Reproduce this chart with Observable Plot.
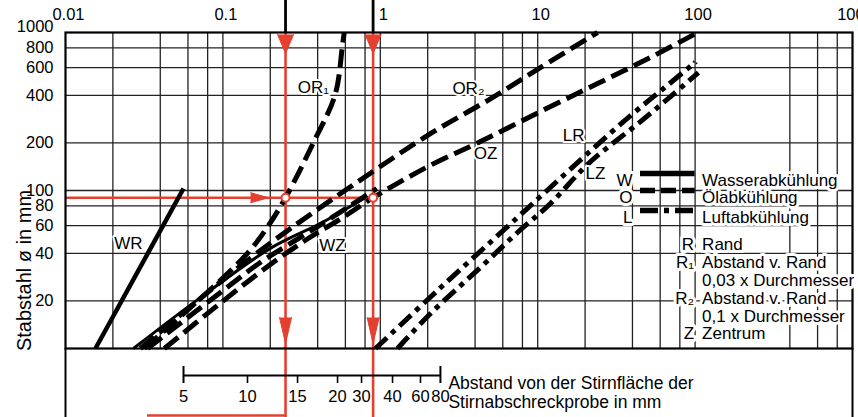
<!DOCTYPE html>
<html>
<head>
<meta charset="utf-8">
<script src="https://cdn.jsdelivr.net/npm/d3@7"></script>
<script src="https://cdn.jsdelivr.net/npm/@observablehq/plot@0.6"></script>
<style>
  body { margin: 0; background: #fff; }
  svg { display: block; }
</style>
</head>
<body>
<div id="chart"></div>
<script>
// ---------- data ----------
const xTicks = [0.01, 0.1, 1, 10, 100, 1000];
const xTickLabels = ["0.01", "0.1", "1", "10", "100", "1000"];
const xGrid = [0.02, 0.04, 0.06, 0.08, 0.1, 0.2, 0.4, 0.6, 0.8, 1, 2, 4, 6, 8, 10, 20, 40, 60, 80, 100, 400, 600, 800];
const yTicks = [20, 40, 60, 80, 100, 200, 400, 600, 800, 1000];
const yTickLabels = ["20", "40", "60", "80", "100", "200", "400", "600", "800", "1000"];
const yGrid = [20, 40, 60, 80, 100, 200, 400, 600, 800];

// curves: [x (equivalent scale), Stabstahl diameter mm]
const curveWR  = [[0.0155, 10], [0.0562, 103]];
const curveWZ  = [[0.027, 10], [0.072, 21], [0.2, 43], [0.427, 62.7], [0.8, 90]];
const curveOR1 = [[0.0317, 10], [0.107, 29.8], [0.149, 41.9], [0.191, 58.3], [0.25, 90], [0.376, 201], [0.517, 405], [0.573, 803], [0.59, 1000]];
const curveOR2 = [[0.0299, 10], [0.0718, 20.7], [0.149, 37.2], [0.269, 57.5], [0.696, 111], [2.08, 229], [4.8, 371], [10.4, 600], [24, 1000]];
const curveOX  = [[0.0332, 10], [0.0832, 20.2], [0.1727, 35], [0.31, 50.5], [0.517, 69.5], [0.95, 103]];
const curveOZ  = [[0.0425, 10], [0.0922, 18.7], [0.2, 34], [0.348, 49.7], [0.54, 64.6], [0.9, 90], [2.07, 144], [4.33, 204], [10.4, 316], [24, 475], [52, 695], [104, 1000]];
const curveLR  = [[0.932, 10], [2.31, 23.3], [6.43, 59.1], [10.4, 91.6], [20.7, 171], [38.9, 298], [63, 442], [100, 646]];
const curveLZ  = [[1.286, 10], [2.085, 16.65], [4.33, 32.6], [7.44, 54.2], [12.06, 82.7], [21.0, 148], [45, 273], [69.8, 393], [105, 558]];

const curveNames   = ["WR", "WZ", "OR1", "OR2", "OX", "OZ", "LR", "LZ"];
const curveCooling = ["W", "W", "O", "O", "O", "O", "L", "L"];
const curvePoints  = [curveWR, curveWZ, curveOR1, curveOR2, curveOX, curveOZ, curveLR, curveLZ];

// curve labels
const labelText = ["WR", "WZ", "OR₁", "OR₂", "OZ", "LR", "LZ"];
const labelX    = [0.0251, 0.497, 0.376, 3.63, 4.66, 16.9, 23.3];
const labelY    = [46.2, 44.9, 449, 443, 171, 223, 128];

// reading example (red)
const readY = 90;
const readX = [0.25, 0.9];
const readArrowX = 0.15;
const readBottomStart = 0.0332;

// Jominy distance scale (mm) and equivalent x
const jominyMM = [5, 10, 15, 20, 30, 40, 60, 80];
const jominyX  = [0.0562, 0.1433, 0.298, 0.535, 0.76, 1.196, 1.80, 2.41];

// legend
const coolKeys  = ["W", "O", "L"];
const coolNames = ["Wasserabkühlung", "Ölabkühlung", "Luftabkühlung"];
const posKeys   = ["R", "R₁", "", "R₂", "", "Z"];
const posNames  = ["Rand", "Abstand v. Rand", "0,03 x Durchmesser", "Abstand v. Rand", "0,1 x Durchmesser", "Zentrum"];

// ---------- build ----------
const xMin = 0.01, xMax = 1000, yMin = 10, yMax = 1000, yMid = 100;
const red = "#e5402f";
const font = "'Liberation Sans', Arial, Helvetica, sans-serif";

const rows = [];
curvePoints.forEach((pts, i) => pts.forEach(([x, y]) => rows.push({curve: curveNames[i], cooling: curveCooling[i], x, y})));

const dashO = "18,7";
const dashL = "16,6,5,6";
const curveLine = (names, opts) => Plot.line(rows.filter(d => names.includes(d.curve)), {
  x: "x", y: "y", z: "curve", curve: "catmull-rom", stroke: "black",
  strokeLinejoin: "round", strokeLinecap: "butt", ...opts
});

const labels = labelText.map((t, i) => ({t, x: labelX[i], y: labelY[i]}));
const jominy = jominyMM.map((mm, i) => ({mm, x: jominyX[i]}));
const xLabels = xTicks.map((v, i) => ({v, t: xTickLabels[i]}));
const yLabels = yTicks.map((v, i) => ({v, t: yTickLabels[i]}));
const coolRows = coolKeys.map((k, i) => ({key: k, name: coolNames[i], dash: [null, "15,6", "18,6,5,6"][i]}));
const posRows = posKeys.map((k, i) => ({key: k, name: posNames[i]}));

const coolRowPx = [173, 190, 210];          // legend row centres (px)
const posRowPx = [237, 255, 273, 291, 309, 326];
const midPx = 190, topPx = 32;
const legendFont = 17;

const halo = {fill: "black", stroke: "white", strokeWidth: 4};
const haloL = {fill: "black", stroke: "white", strokeWidth: 6};

const marks = [
  // grid
  Plot.ruleX(xGrid, {stroke: "#222", strokeWidth: 1.3}),
  Plot.ruleY(yGrid, {stroke: "#222", strokeWidth: 1.3}),
  // lower strip borders
  Plot.ruleX([xMin, xMax], {y1: yMin, y2: yMin, insetBottom: -72, stroke: "black", strokeWidth: 2}),
  // red reading lines
  Plot.ruleX(readX, {stroke: red, strokeWidth: 2.6, insetBottom: -69}),
  Plot.ruleY([readY], {x1: xMin, x2: readX[1], stroke: red, strokeWidth: 2.6}),
  Plot.ruleY([yMin], {x1: readBottomStart, x2: readX[0], dy: 67, stroke: red, strokeWidth: 2.6}),
  Plot.ruleX(readX, {y1: yMax, y2: yMax, insetTop: -32, stroke: "black", strokeWidth: 2.8}),
  // curves
  curveLine(["WR"], {strokeWidth: 4.5}),
  curveLine(["WZ"], {strokeWidth: 3}),
  curveLine(["OR1", "OR2", "OX", "OZ"], {strokeWidth: 5, strokeDasharray: dashO}),
  curveLine(["LR", "LZ"], {strokeWidth: 5, strokeDasharray: dashL}),
  // arrows and reading points
  Plot.vector(readX, {x: d => d, frameAnchor: "top", dy: 2, length: 19, r: 8, rotate: 180, shape: "spike", anchor: "start", fill: red, stroke: red, strokeWidth: 1}),
  Plot.vector(readX, {x: d => d, frameAnchor: "bottom", dy: -31, length: 26, r: 6, rotate: 180, shape: "spike", anchor: "start", fill: red, stroke: red, strokeWidth: 1}),
  Plot.vector([readArrowX], {x: d => d, y: readY, length: 18, r: 5, rotate: 90, shape: "spike", anchor: "start", fill: red, stroke: red, strokeWidth: 1}),
  Plot.dot(readX, {x: d => d, y: readY, r: 4, fill: "white", stroke: red, strokeWidth: 2}),
  // curve labels
  Plot.text(labels, {x: "x", y: "y", text: "t", fontSize: 17, ...halo}),
  // frame
  Plot.frame({stroke: "black", strokeWidth: 2.2}),
  // axis labels
  Plot.text(xLabels, {x: "v", y: yMax, text: "t", dy: -18, dx: 3, fontSize: 16.5, fill: "black"}),
  Plot.text(yLabels.filter(d => d.v < yMax), {x: xMin, y: "v", text: "t", dx: -12, textAnchor: "end", fontSize: 16.5, fill: "black"}),
  Plot.text(yLabels.filter(d => d.v === yMax), {x: xMin, y: "v", text: "t", dx: -12, dy: -6, textAnchor: "end", fontSize: 16.5, fill: "black"}),
  Plot.text(["Stabstahl ø in mm"], {frameAnchor: "left", textAnchor: "middle", rotate: -90, dx: -41, dy: 80, fontSize: 20, fill: "black"}),
  // Jominy scale
  Plot.ruleY([yMin], {x1: jominyX[0], x2: jominyX[jominyX.length - 1], dy: 27, stroke: "black", strokeWidth: 2}),
  Plot.ruleX(jominyX.slice(1, -1), {y1: yMin, y2: yMin, insetBottom: -8, dy: 27, stroke: "black", strokeWidth: 1.6}),
  Plot.ruleX([jominyX[0], jominyX[jominyX.length - 1]], {y1: yMin, y2: yMin, insetTop: -9, insetBottom: -8, dy: 27, stroke: "black", strokeWidth: 2}),
  Plot.text(jominy, {x: "x", y: yMin, text: "mm", dy: 48, fontSize: 16.5, fill: "black"}),
  Plot.text(["Abstand von der Stirnfläche der\nStirnabschreckprobe in mm"], {
    x: jominyX[jominyX.length - 1], y: yMin, dx: 8, dy: 43.6, textAnchor: "start", lineHeight: 1.14, fontSize: 17.5, fill: "black"})
];

// legend: cooling
coolRows.forEach((r, i) => {
  const py = coolRowPx[i];
  marks.push(Plot.ruleY([r], {y: yMid, x1: 45, x2: 100, dy: py - midPx, stroke: "black", strokeWidth: 5.5, strokeDasharray: r.dash}));
  marks.push(Plot.text([r], {x: 40, frameAnchor: "top", dy: py - topPx, text: "key", textAnchor: "end", fontSize: legendFont, ...haloL}));
  marks.push(Plot.text([r], {x: 100, frameAnchor: "top", dy: py - topPx, dx: 7, text: "name", textAnchor: "start", fontSize: legendFont, ...haloL}));
});
// legend: positions
posRows.forEach((r, i) => {
  const py = posRowPx[i];
  if (r.key) marks.push(Plot.text([r], {x: 100, frameAnchor: "top", dy: py - topPx, dx: -1, text: "key", textAnchor: "end", fontSize: legendFont, ...haloL}));
  marks.push(Plot.text([r], {x: 100, frameAnchor: "top", dy: py - topPx, dx: 7, text: "name", textAnchor: "start", fontSize: legendFont, ...haloL}));
});

const chart = Plot.plot({
  width: 858,
  height: 417,
  marginLeft: 65,
  marginRight: 6,
  marginTop: 32,
  marginBottom: 69,
  x: {type: "log", domain: [xMin, xMax], axis: null},
  y: {type: "log", domain: [yMin, yMax], axis: null},
  style: {fontFamily: font, fontSize: "16.5px", color: "black", background: "white", overflow: "visible"},
  marks
});
document.getElementById("chart").append(chart);
</script>
</body>
</html>
